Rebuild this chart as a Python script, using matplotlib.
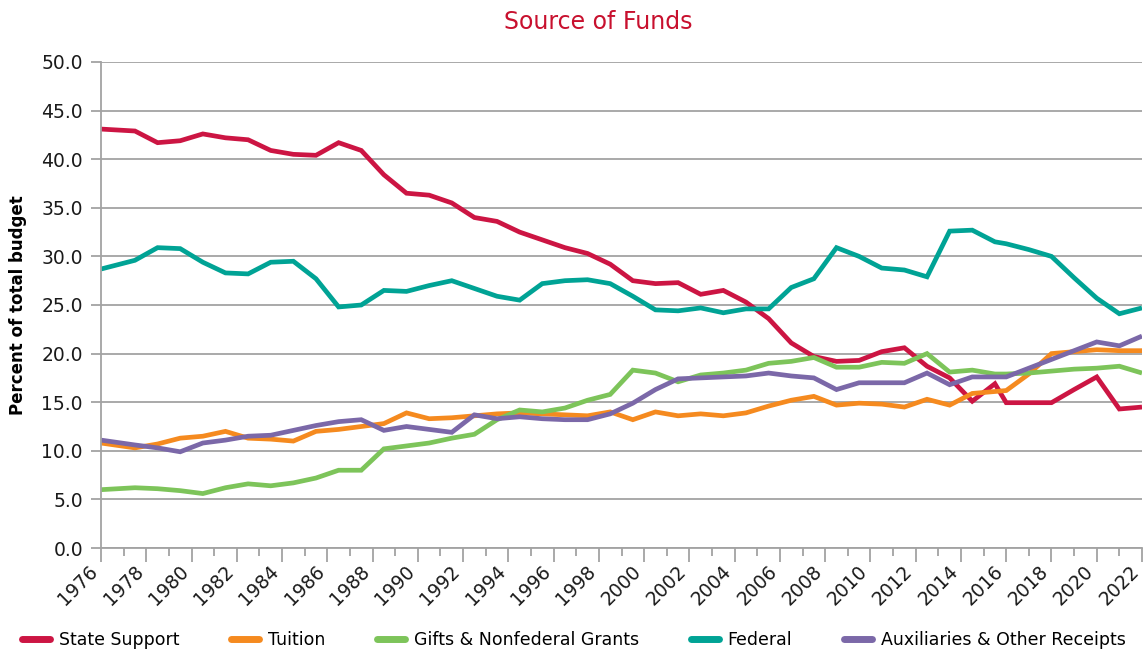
import matplotlib
matplotlib.use("Agg")
import matplotlib.pyplot as plt
from matplotlib.ticker import MultipleLocator, FormatStrFormatter
from matplotlib.transforms import ScaledTranslation

plt.rcParams['font.family'] = ['DejaVu Sans']

years = [1976, 1977.5, 1978.5, 1979.5, 1980.5, 1981.5, 1982.5, 1983.5, 1984.5, 1985.5,
         1986.5, 1987.5, 1988.5, 1989.5, 1990.5, 1991.5, 1992.5, 1993.5, 1994.5, 1995.5,
         1996.5, 1997.5, 1998.5, 1999.5, 2000.5, 2001.5, 2002.5, 2003.5, 2004.5, 2005.5,
         2006.5, 2007.5, 2008.5, 2009.5, 2010.5, 2011.5, 2012.5, 2013.5, 2014.5, 2015.5,
         2016, 2017, 2018, 2019, 2020, 2021, 2022]

state_support = [43.1, 42.9, 41.7, 41.9, 42.6, 42.2, 42.0, 40.9, 40.5, 40.4,
                 41.7, 40.9, 38.4, 36.5, 36.3, 35.5, 34.0, 33.6, 32.5, 31.7,
                 30.9, 30.3, 29.2, 27.5, 27.2, 27.3, 26.1, 26.5, 25.3, 23.6,
                 21.1, 19.7, 19.2, 19.3, 20.2, 20.6, 18.7, 17.5, 15.1, 16.9,
                 14.95, 14.95, 14.95, 16.3, 17.6, 14.3, 14.5]

tuition = [10.8, 10.3, 10.7, 11.3, 11.5, 12.0, 11.3, 11.2, 11.0, 12.0,
           12.2, 12.5, 12.8, 13.9, 13.3, 13.4, 13.6, 13.8, 13.9, 13.8,
           13.7, 13.6, 14.0, 13.2, 14.0, 13.6, 13.8, 13.6, 13.9, 14.6,
           15.2, 15.6, 14.7, 14.9, 14.8, 14.5, 15.3, 14.7, 15.9, 16.1,
           16.2, 17.9, 20.0, 20.2, 20.4, 20.3, 20.3]

gifts_grants = [6.0, 6.2, 6.1, 5.9, 5.6, 6.2, 6.6, 6.4, 6.7, 7.2,
                8.0, 8.0, 10.2, 10.5, 10.8, 11.3, 11.7, 13.2, 14.2, 14.0,
                14.4, 15.2, 15.8, 18.3, 18.0, 17.1, 17.8, 18.0, 18.3, 19.0,
                19.2, 19.6, 18.6, 18.6, 19.1, 19.0, 20.0, 18.1, 18.3, 17.9,
                17.9, 18.0, 18.2, 18.4, 18.5, 18.7, 18.0]

federal = [28.7, 29.6, 30.9, 30.8, 29.4, 28.3, 28.2, 29.4, 29.5, 27.7,
           24.8, 25.0, 26.5, 26.4, 27.0, 27.5, 26.7, 25.9, 25.5, 27.2,
           27.5, 27.6, 27.2, 25.9, 24.5, 24.4, 24.7, 24.2, 24.6, 24.6,
           26.8, 27.7, 30.9, 30.0, 28.8, 28.6, 27.9, 32.6, 32.7, 31.5,
           31.3, 30.7, 30.0, 27.8, 25.7, 24.1, 24.7]

auxiliaries = [11.1, 10.6, 10.3, 9.9, 10.8, 11.1, 11.5, 11.6, 12.1, 12.6,
               13.0, 13.2, 12.1, 12.5, 12.2, 11.9, 13.7, 13.3, 13.5, 13.3,
               13.2, 13.2, 13.8, 14.9, 16.3, 17.4, 17.5, 17.6, 17.7, 18.0,
               17.7, 17.5, 16.3, 17.0, 17.0, 17.0, 18.0, 16.8, 17.6, 17.6,
               17.6, 18.5, 19.4, 20.3, 21.2, 20.8, 21.8]

series = [
    ("State Support", state_support, "#CC1543"),
    ("Tuition", tuition, "#F58A1F"),
    ("Gifts & Nonfederal Grants", gifts_grants, "#7DC45A"),
    ("Federal", federal, "#00A395"),
    ("Auxiliaries & Other Receipts", auxiliaries, "#7B68A8"),
]

fig = plt.figure(figsize=(11.46, 6.53), dpi=100)
ax = fig.add_axes([101/1146, 1-548/653, (1142-101)/1146, (548-62)/653])

grid_c = "#A3A3A3"
for name, vals, col in series:
    ax.plot(years, vals, color=col, lw=3.4, label=name, solid_joinstyle='miter', solid_capstyle='butt')

ax.set_xlim(1976, 2022)
ax.set_ylim(0, 50)
ax.yaxis.set_major_locator(MultipleLocator(5))
ax.yaxis.set_major_formatter(FormatStrFormatter('%.1f'))
ax.xaxis.set_major_locator(MultipleLocator(2))
ax.xaxis.set_minor_locator(MultipleLocator(1))
ax.xaxis.set_major_formatter(FormatStrFormatter('%d'))

ax.grid(axis='y', color=grid_c, lw=1.3)
ax.set_axisbelow(True)
for s in ['top', 'right']:
    ax.spines[s].set_visible(False)
for s in ['left', 'bottom']:
    ax.spines[s].set_color(grid_c)
    ax.spines[s].set_linewidth(1.3)

ax.tick_params(axis='y', which='major', length=7, width=1.3, color=grid_c,
               labelsize=13.5, pad=6, labelcolor='#1a1a1a')
ax.tick_params(axis='x', which='major', length=10, width=1.3, color=grid_c,
               labelsize=13.5, pad=4, labelcolor='#1a1a1a')
ax.tick_params(axis='x', which='minor', length=6, width=1.3, color=grid_c)
shift = ScaledTranslation(-6/100, -1/100, fig.dpi_scale_trans)
for lab in ax.get_xticklabels():
    lab.set_rotation(45)
    lab.set_ha('right')
    lab.set_va('center')
    lab.set_rotation_mode('anchor')
    lab.set_transform(lab.get_transform() + shift)

ax.set_ylabel("Percent of total budget", fontsize=12, fontweight='bold', labelpad=8)
ax.yaxis.set_label_coords(-0.071, 0.5)

fig.text(598/1146, 1-22/653, "Source of Funds", color="#C8102E", fontsize=17,
         ha='center', va='center')

leg = fig.legend(loc='center', bbox_to_anchor=(574/1146, 1-640/653), ncol=5,
                 frameon=False, fontsize=12.5, handlelength=1.6, handletextpad=0.5,
                 columnspacing=3.0)
for h in leg.get_lines():
    h.set_linewidth(5)
    h.set_solid_capstyle('round')

fig.savefig("out.png", dpi=100)
